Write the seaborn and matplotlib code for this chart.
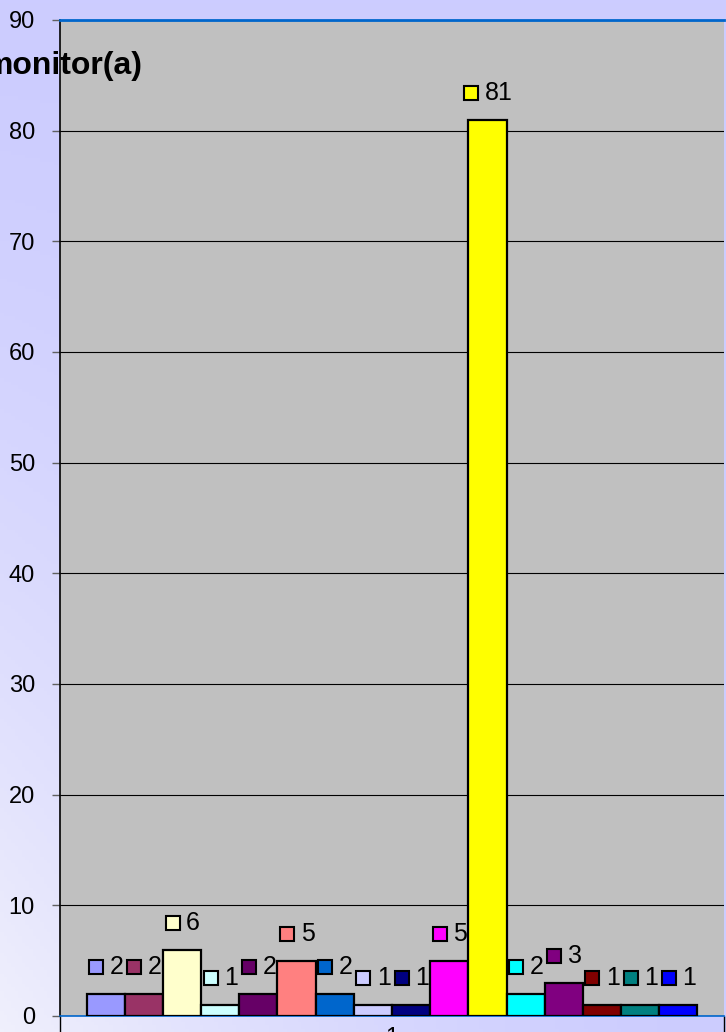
import matplotlib
matplotlib.use("Agg")
import matplotlib.pyplot as plt
import matplotlib.transforms as mtransforms
import seaborn as sns
import numpy as np
import pandas as pd
from matplotlib.ticker import FixedLocator

# Data
category = ["1"]
series = [f"s{i}" for i in range(1, 17)]
values = [2, 2, 6, 1, 2, 5, 2, 1, 1, 5, 81, 2, 3, 1, 1, 1]
colors = ["#9999FF", "#993366", "#FFFFCC", "#CCFFFF", "#660066", "#FF8080",
          "#0066CC", "#CCCCFF", "#000080", "#FF00FF", "#FFFF00", "#00FFFF",
          "#800080", "#800000", "#008080", "#0000FF"]
title = "monitor(a)"
y_ticks = list(range(0, 91, 10))

sns.set_theme(style="white")
plt.rcParams['font.family'] = ['Liberation Sans', 'DejaVu Sans']

W, H, DPI = 726, 1032, 100
fig = plt.figure(figsize=(W / DPI, H / DPI), dpi=DPI)

# gradient background (lavender, lighter towards the bottom-left)
bg = fig.add_axes([0, 0, 1, 1], zorder=-10)
xf = np.linspace(0, 1, 200)[None, :]
yf = np.linspace(0, 1, 300)[:, None]
t = (yf * (1 - xf)) ** 1.5
c0 = np.array([204, 204, 255]) / 255
c1 = np.array([240, 240, 252]) / 255
img = c0[None, None, :] + (c1 - c0)[None, None, :] * t[:, :, None]
bg.imshow(img, aspect="auto", extent=[0, 1, 0, 1], origin="upper")
bg.set_axis_off()

left, right, top, bottom = 60, 724, 20, 1016
ax = fig.add_axes([left / W, (H - bottom) / H, (right - left) / W, (bottom - top) / H])
ax.set_facecolor("#C0C0C0")

df = pd.DataFrame({"cat": category * len(series), "series": series, "value": values})
sns.barplot(data=df, x="cat", y="value", hue="series", palette=colors,
            width=0.92, dodge=True, saturation=1, legend=False,
            edgecolor="black", linewidth=1.6, ax=ax, zorder=3)

ax.set_xlim(-0.5, 0.5)
ax.set_ylim(0, 90)
ax.set_yticks(y_ticks)
ax.set_xlabel("")
ax.set_ylabel("")

ax.grid(axis="y", color="black", linewidth=0.8, zorder=1)
ax.set_axisbelow(True)
ax.spines["left"].set_color("black")
ax.spines["left"].set_linewidth(1.2)
ax.spines["top"].set_color("#0066CC")
ax.spines["top"].set_linewidth(2)
ax.spines["bottom"].set_color("#0066CC")
ax.spines["bottom"].set_linewidth(1.2)
ax.spines["right"].set_visible(False)

ax.tick_params(axis="y", direction="out", length=6, width=1, color="#606060",
               labelsize=17, pad=12, left=True)
ax.xaxis.set_minor_locator(FixedLocator([-0.5, 0.5]))
ax.tick_params(axis="x", which="major", length=0, labelsize=17, pad=8)
ax.tick_params(axis="x", which="minor", direction="out", length=14, width=1,
               color="black", bottom=True)
for lab in ax.get_yticklabels() + ax.get_xticklabels():
    lab.set_color("black")

# value labels with legend keys
px = 72 / DPI
for patch, v, c in zip(ax.patches, values, colors):
    cx = patch.get_x() + patch.get_width() / 2
    txt = str(v)
    total = 15 + 6 + 13 * len(txt)
    key_dx = -total / 2 + 7.5
    txt_dx = -total / 2 + 21
    shift = mtransforms.ScaledTranslation(key_dx / DPI, 27 / DPI, fig.dpi_scale_trans)
    ax.plot([cx], [v], marker="s", markersize=14 * px, markerfacecolor=c,
            markeredgecolor="black", markeredgewidth=1.5, linestyle="none",
            transform=ax.transData + shift, zorder=5, clip_on=False)
    ax.annotate(txt, xy=(cx, v), xytext=(txt_dx * px, 27 * px),
                textcoords="offset points", ha="left", va="center",
                fontsize=18, color="black", zorder=5)

fig.text(143 / W, 1 - 74 / H, title, ha="right", va="baseline",
         fontsize=23, fontweight="bold", color="black")

fig.savefig("out.png", dpi=DPI)
